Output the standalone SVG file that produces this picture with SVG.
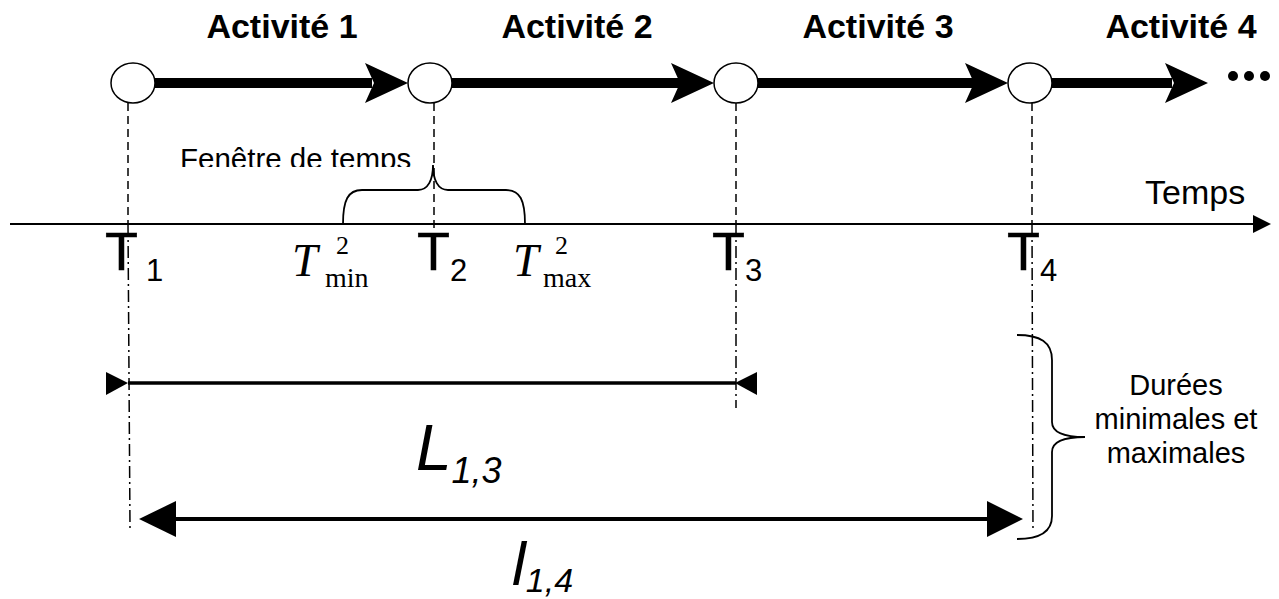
<svg xmlns="http://www.w3.org/2000/svg" width="1279" height="599" viewBox="0 0 1279 599">
<style>
.sans{font-family:"Liberation Sans",Arial,sans-serif;fill:#000}
.serif{font-family:"Liberation Serif","Times New Roman",serif;fill:#000}
.act{font-weight:bold;font-size:34px;text-anchor:middle}
.bigT{font-size:54px;stroke:#000;stroke-width:0.5}
.sub{font-size:31px}
.node{fill:#fff;stroke:#000;stroke-width:1.5}
.thick{stroke:#000;stroke-width:10;fill:none}
.dash{stroke:#000;stroke-width:1.5;stroke-dasharray:8 5;fill:none}
.dashdot{stroke:#000;stroke-width:1.5;stroke-dasharray:12 4 2 4;fill:none}
.brace{stroke:#000;stroke-width:1.8;fill:none}
.head{fill:#000}
</style>
<defs>
<clipPath id="fclip"><rect x="0" y="0" width="1279" height="167"/></clipPath>
</defs>
<rect width="1279" height="599" fill="#fff"/>

<g id="labels-activities">
<text class="sans act" x="282" y="38">Activité 1</text>
<text class="sans act" x="577" y="38">Activité 2</text>
<text class="sans act" x="878" y="38">Activité 3</text>
<text class="sans act" x="1181" y="38">Activité 4</text>
</g>

<g id="connectors">
<line class="thick" x1="150" y1="83" x2="372" y2="83"/>
<polygon class="head" points="365,63 408,83 365,103 374,83"/>
<line class="thick" x1="448" y1="83" x2="680" y2="83"/>
<polygon class="head" points="671,63 714,83 671,103 680,83"/>
<line class="thick" x1="754" y1="83" x2="974" y2="83"/>
<polygon class="head" points="965,63 1008,83 965,103 974,83"/>
<line class="thick" x1="1048" y1="83" x2="1172" y2="83"/>
<polygon class="head" points="1165,63 1208,83 1165,103 1174,83"/>
<!-- vertical guide lines -->
<line class="dash" x1="128" y1="103" x2="128" y2="224"/>
<line class="dashdot" x1="128" y1="224" x2="130" y2="528"/>
<line class="dash" x1="434" y1="103" x2="434" y2="230"/>
<line class="dash" x1="736" y1="103" x2="736" y2="224"/>
<line class="dashdot" x1="736" y1="224" x2="736" y2="408"/>
<line class="dash" x1="1032" y1="103" x2="1032" y2="224"/>
<line class="dashdot" x1="1032" y1="224" x2="1033" y2="532"/>
<!-- time axis -->
<line x1="10" y1="224" x2="1256" y2="224" stroke="#000" stroke-width="2.2"/>
<polygon class="head" points="1253,215 1271,224 1253,233"/>
<!-- L1,3 -->
<line x1="128" y1="383" x2="736" y2="383" stroke="#000" stroke-width="3.5"/>
<polygon class="head" points="106,372 128,383 106,395"/>
<polygon class="head" points="757,372 735,383 757,395"/>
<!-- l1,4 -->
<line x1="170" y1="519" x2="992" y2="519" stroke="#000" stroke-width="4"/>
<polygon class="head" points="139,519 176,501 176,537"/>
<polygon class="head" points="1023,519 987,501 987,537"/>
</g>

<g id="node-1"><ellipse class="node" cx="133" cy="83" rx="22" ry="20"/></g>
<g id="node-2"><ellipse class="node" cx="430" cy="83" rx="22" ry="20"/></g>
<g id="node-3"><ellipse class="node" cx="736" cy="83" rx="22" ry="20"/></g>
<g id="node-4"><ellipse class="node" cx="1030" cy="83" rx="22" ry="20"/></g>

<g id="ellipsis">
<circle cx="1233" cy="76" r="5"/>
<circle cx="1249" cy="76" r="5"/>
<circle cx="1265" cy="76" r="5"/>
</g>

<g id="window">
<path class="brace" d="M343,224 C343,200 348,190 362,190 L418,190 C428,190 433,180 433,165 C433,180 438,190 448,190 L506,190 C520,190 525,200 525,224"/>
<text class="sans" x="180" y="169" font-size="29.5" clip-path="url(#fclip)">Fenêtre de temps</text>
</g>

<g id="temps"><text class="sans" x="1145" y="204" font-size="34">Temps</text></g>

<g id="t-labels">
<text class="sans bigT" x="105" y="270">T</text>
<text class="sans sub" x="146" y="281">1</text>
<text class="sans bigT" x="417" y="270">T</text>
<text class="sans sub" x="450" y="281">2</text>
<text class="sans bigT" x="712" y="270">T</text>
<text class="sans sub" x="745" y="281">3</text>
<text class="sans bigT" x="1007" y="270">T</text>
<text class="sans sub" x="1040" y="281">4</text>
</g>

<g id="tmin">
<text class="serif" x="292" y="276" font-size="46" font-style="italic">T</text>
<text class="serif" x="336" y="254" font-size="26">2</text>
<text class="serif" x="325" y="287" font-size="28">min</text>
</g>
<g id="tmax">
<text class="serif" x="513" y="276" font-size="46" font-style="italic">T</text>
<text class="serif" x="555" y="254" font-size="26">2</text>
<text class="serif" x="543" y="287" font-size="28">max</text>
</g>

<g id="durations">
<path class="brace" d="M1017,335 C1040,335 1052,342 1052,360 L1052,422 C1052,432 1062,437 1085,437 C1062,437 1052,442 1052,452 L1052,516 C1052,532 1040,539 1017,539"/>
<text class="sans" x="1176" y="395" font-size="29" text-anchor="middle">Durées</text>
<text class="sans" x="1176" y="429" font-size="29" text-anchor="middle">minimales et</text>
<text class="sans" x="1176" y="463" font-size="29" text-anchor="middle">maximales</text>
</g>

<g id="dim-labels">
<text class="sans" x="416" y="470" font-size="64" font-style="italic">L<tspan font-size="36" dy="13">1,3</tspan></text>
<text class="sans" x="512" y="585" font-size="62" font-style="italic">l<tspan font-size="34" dy="7">1,4</tspan></text>
</g>
</svg>
